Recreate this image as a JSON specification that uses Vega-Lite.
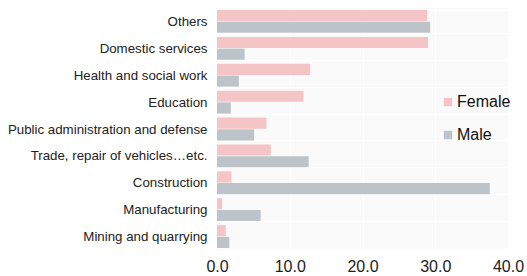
{
  "$schema": "https://vega.github.io/schema/vega-lite/v6.json",
  "width": 291,
  "height": 242,
  "autosize": "none",
  "padding": {"left": 217, "top": 8, "right": 19, "bottom": 26},
  "background": "white",
  "config": {
    "font": "Liberation Sans",
    "view": {"fill": "#fafafa", "stroke": null}
  },
  "data": {
    "values": [
      {"sector": "Others", "sex": "Female", "value": 28.9},
      {"sector": "Others", "sex": "Male", "value": 29.3},
      {"sector": "Domestic services", "sex": "Female", "value": 29.0},
      {"sector": "Domestic services", "sex": "Male", "value": 3.8},
      {"sector": "Health and social work", "sex": "Female", "value": 12.8},
      {"sector": "Health and social work", "sex": "Male", "value": 3.0},
      {"sector": "Education", "sex": "Female", "value": 11.9},
      {"sector": "Education", "sex": "Male", "value": 1.9},
      {"sector": "Public administration and defense", "sex": "Female", "value": 6.8},
      {"sector": "Public administration and defense", "sex": "Male", "value": 5.1},
      {"sector": "Trade, repair of vehicles…etc.", "sex": "Female", "value": 7.4},
      {"sector": "Trade, repair of vehicles…etc.", "sex": "Male", "value": 12.6},
      {"sector": "Construction", "sex": "Female", "value": 2.0},
      {"sector": "Construction", "sex": "Male", "value": 37.5},
      {"sector": "Manufacturing", "sex": "Female", "value": 0.7},
      {"sector": "Manufacturing", "sex": "Male", "value": 6.0},
      {"sector": "Mining and quarrying", "sex": "Female", "value": 1.2},
      {"sector": "Mining and quarrying", "sex": "Male", "value": 1.7}
    ]
  },
  "mark": {"type": "bar"},
  "encoding": {
    "y": {
      "field": "sector",
      "type": "nominal",
      "sort": null,
      "scale": {"paddingInner": 0.15, "paddingOuter": 0.075},
      "axis": {
        "title": null,
        "domain": false,
        "ticks": false,
        "labelFontSize": 13.3,
        "labelColor": "#222",
        "labelPadding": 10,
        "labelLimit": 300,
        "grid": true,
        "tickBand": "extent",
        "gridColor": "white",
        "gridWidth": 1
      }
    },
    "yOffset": {
      "field": "sex",
      "type": "nominal",
      "sort": ["Female", "Male"],
      "scale": {"paddingInner": 0.05}
    },
    "x": {
      "field": "value",
      "type": "quantitative",
      "scale": {"domain": [0, 40], "nice": false},
      "axis": {
        "title": null,
        "values": [0, 10, 20, 30, 40],
        "format": ".1f",
        "domain": false,
        "ticks": false,
        "labelFlush": false,
        "labelFontSize": 16,
        "labelColor": "#222",
        "labelPadding": 8,
        "grid": true,
        "gridColor": "white",
        "gridWidth": 1
      }
    },
    "color": {
      "field": "sex",
      "type": "nominal",
      "sort": ["Female", "Male"],
      "scale": {"domain": ["Female", "Male"], "range": ["#f5c4c6", "#bcc4ca"]},
      "legend": {
        "title": null,
        "orient": "none",
        "legendX": 223,
        "legendY": 86,
        "symbolType": "square",
        "symbolSize": 70,
        "symbolStrokeWidth": 0,
        "labelFontSize": 16,
        "labelColor": "#111",
        "labelOffset": 1,
        "rowPadding": 17
      }
    }
  }
}
